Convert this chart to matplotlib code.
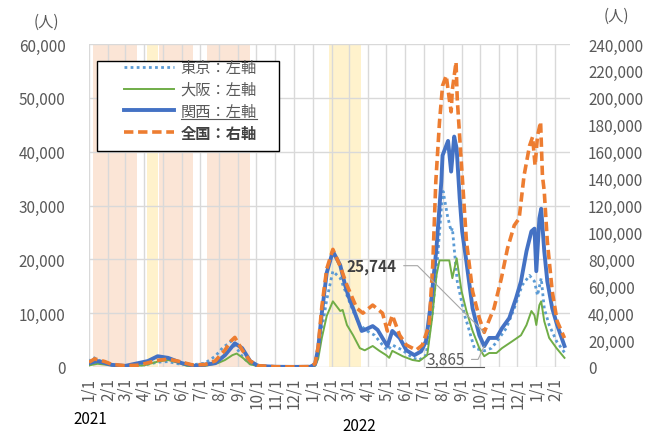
import matplotlib
matplotlib.use('Agg')
import matplotlib.pyplot as plt
import matplotlib.dates as mdates
from matplotlib.ticker import FuncFormatter, MultipleLocator
from matplotlib.lines import Line2D
from matplotlib.patches import Rectangle
from matplotlib.transforms import IdentityTransform
import pandas as pd

plt.rcParams['font.family'] = ['Noto Sans CJK JP', 'DejaVu Sans']

# 東京 (左軸)
tokyo_dates = ['2021-01-01', '2021-01-08', '2021-01-15', '2021-01-27', '2021-02-07', '2021-02-28',
               '2021-03-21', '2021-04-07', '2021-04-23', '2021-05-10', '2021-05-26', '2021-06-18',
               '2021-07-09', '2021-07-26', '2021-08-08', '2021-08-16', '2021-08-21', '2021-08-30',
               '2021-09-09', '2021-09-21', '2021-10-04', '2021-11-01', '2021-12-01', '2021-12-28',
               '2022-01-05', '2022-01-10', '2022-01-16', '2022-01-24', '2022-02-03', '2022-02-15',
               '2022-02-26', '2022-03-08', '2022-03-19', '2022-03-31', '2022-04-12', '2022-04-25',
               '2022-05-03', '2022-05-11', '2022-05-28', '2022-06-13', '2022-06-24', '2022-07-05',
               '2022-07-15', '2022-07-23', '2022-07-30', '2022-08-02', '2022-08-05', '2022-08-09',
               '2022-08-15', '2022-08-17', '2022-08-20', '2022-08-25', '2022-09-01', '2022-09-06',
               '2022-09-11', '2022-09-17', '2022-09-22', '2022-10-08', '2022-10-20', '2022-10-29',
               '2022-11-13', '2022-11-26', '2022-12-09', '2022-12-21', '2022-12-29', '2023-01-03',
               '2023-01-09', '2023-01-14', '2023-01-22', '2023-02-03', '2023-02-16']
tokyo = [1000, 1800, 1300, 900, 400, 250,
         300, 500, 900, 1000, 600, 400,
         700, 2000, 3700, 4300, 4800, 3500,
         1800, 600, 200, 30, 20, 40,
         400, 2500, 7000, 12500, 17800, 16500,
         13300, 10400, 7800, 6700, 5900, 4100,
         3100, 4100, 3100, 1700, 1300, 2200,
         9600, 18900, 29400, 32600, 30700, 28100,
         25200, 25800, 22000, 15900, 12200, 9600,
         7800, 5400, 3500, 3000, 3500, 4800,
         7200, 10900, 15200, 17000, 15900, 13300,
         16500, 10900, 7800, 4800, 2700]

# 大阪 (左軸)
osaka_dates = ['2021-01-01', '2021-01-15', '2021-02-07', '2021-03-01', '2021-04-01', '2021-04-23',
               '2021-05-10', '2021-05-26', '2021-06-10', '2021-07-09', '2021-07-30', '2021-08-11',
               '2021-08-23', '2021-08-30', '2021-09-09', '2021-09-21', '2021-10-04', '2021-11-01',
               '2021-12-01', '2021-12-28', '2022-01-05', '2022-01-10', '2022-01-16', '2022-01-24',
               '2022-02-03', '2022-02-15', '2022-02-19', '2022-02-26', '2022-03-08', '2022-03-19',
               '2022-03-27', '2022-04-09', '2022-04-20', '2022-05-01', '2022-05-06', '2022-05-11',
               '2022-05-28', '2022-06-13', '2022-06-24', '2022-07-07', '2022-07-15', '2022-07-22',
               '2022-07-27', '2022-08-12', '2022-08-17', '2022-08-24', '2022-09-01', '2022-09-09',
               '2022-09-19', '2022-09-30', '2022-10-08', '2022-10-16', '2022-10-28', '2022-11-06',
               '2022-11-23', '2022-12-07', '2022-12-16', '2022-12-24', '2022-12-29', '2023-01-01',
               '2023-01-06', '2023-01-09', '2023-01-14', '2023-01-22', '2023-02-03', '2023-02-16']
osaka = [300, 600, 300, 100, 300, 1000,
         1300, 800, 200, 200, 700, 1300,
         2200, 2500, 1700, 500, 150, 20,
         10, 20, 200, 1500, 5400, 9500,
         12200, 10400, 10600, 7800, 5900, 3500,
         3100, 3900, 3000, 2200, 1700, 3000,
         2000, 1300, 1100, 2200, 9100, 17000,
         19800, 19800, 16500, 20200, 14100, 10400,
         6700, 3500, 2000, 2600, 2600, 3500,
         4800, 5900, 7800, 10400, 9600, 7800,
         11500, 12200, 8500, 5400, 3500, 1700]

# 関西 (左軸)
kansai_dates = ['2021-01-01', '2021-01-15', '2021-02-07', '2021-03-01', '2021-04-07', '2021-04-23',
                '2021-05-10', '2021-06-02', '2021-06-23', '2021-07-26', '2021-08-11', '2021-08-27',
                '2021-09-08', '2021-09-21', '2021-10-04', '2021-11-01', '2021-12-01', '2021-12-28',
                '2022-01-05', '2022-01-10', '2022-01-16', '2022-01-24', '2022-02-03', '2022-02-15',
                '2022-02-23', '2022-02-28', '2022-03-08', '2022-03-22', '2022-03-27', '2022-04-09',
                '2022-04-17', '2022-04-28', '2022-05-03', '2022-05-11', '2022-05-23', '2022-06-03',
                '2022-06-16', '2022-06-27', '2022-07-05', '2022-07-14', '2022-07-22', '2022-07-30',
                '2022-08-01', '2022-08-07', '2022-08-10', '2022-08-15', '2022-08-20', '2022-08-24',
                '2022-08-29', '2022-09-02', '2022-09-09', '2022-09-19', '2022-09-30', '2022-10-08',
                '2022-10-16', '2022-10-28', '2022-11-06', '2022-11-18', '2022-11-29', '2022-12-07',
                '2022-12-16', '2022-12-24', '2022-12-29', '2023-01-01', '2023-01-06', '2023-01-09',
                '2023-01-14', '2023-01-19', '2023-01-27', '2023-02-04', '2023-02-16']
kansai = [700, 1100, 400, 200, 1100, 2000,
          1700, 700, 200, 700, 2200, 4400,
          3500, 1100, 200, 40, 20, 40,
          500, 3500, 10000, 17500, 21500, 18900,
          15200, 13300, 10900, 6700, 6900, 7600,
          6900, 4800, 3900, 6700, 5400, 3100,
          2200, 2900, 4800, 12800, 22000, 34400,
          39300, 41100, 42000, 36300, 42800, 40600,
          31300, 25200, 19500, 10900, 5900, 3865,
          5400, 5400, 7200, 9100, 12800, 15900,
          21500, 25200, 25700, 17800, 27600, 29400,
          21500, 15900, 10900, 7800, 3900]

# 全国 (右軸)
zenkoku_dates = ['2021-01-01', '2021-01-10', '2021-01-15', '2021-01-27', '2021-02-07', '2021-02-28',
                 '2021-03-21', '2021-04-02', '2021-04-23', '2021-05-10', '2021-05-26', '2021-06-18',
                 '2021-07-09', '2021-07-26', '2021-08-11', '2021-08-20', '2021-08-27', '2021-09-08',
                 '2021-09-21', '2021-10-04', '2021-11-01', '2021-12-01', '2021-12-28', '2022-01-05',
                 '2022-01-10', '2022-01-16', '2022-01-24', '2022-02-03', '2022-02-15', '2022-02-26',
                 '2022-03-14', '2022-03-24', '2022-04-09', '2022-04-25', '2022-05-03', '2022-05-11',
                 '2022-05-23', '2022-06-03', '2022-06-19', '2022-06-29', '2022-07-10', '2022-07-16',
                 '2022-07-21', '2022-07-27', '2022-08-01', '2022-08-07', '2022-08-12', '2022-08-15',
                 '2022-08-17', '2022-08-23', '2022-08-25', '2022-09-01', '2022-09-09', '2022-09-19',
                 '2022-09-30', '2022-10-08', '2022-10-16', '2022-10-24', '2022-11-05', '2022-11-15',
                 '2022-11-26', '2022-12-04', '2022-12-12', '2022-12-21', '2022-12-26', '2022-12-30',
                 '2023-01-03', '2023-01-08', '2023-01-11', '2023-01-14', '2023-01-19', '2023-01-27',
                 '2023-02-04', '2023-02-16']
zenkoku = [3500, 6000, 5500, 4000, 2000, 1000,
           1300, 2500, 5000, 5800, 4400, 1600,
           1800, 4500, 12600, 19000, 22000, 12600,
           4400, 1000, 200, 120, 300, 2500,
           15000, 45000, 73000, 87400, 74800, 60700,
           43700, 40000, 46000, 40000, 26700, 38500,
           23700, 16300, 12600, 16300, 31000, 75800,
           137800, 182000, 209000, 216500, 199000, 189600,
           206000, 226600, 199000, 149600, 93300, 56300,
           36300, 25744, 34800, 43700, 65900, 88100,
           105200, 110400, 142200, 164400, 171000, 149600,
           171800, 182200, 142200, 130400, 93300, 56300,
           34100, 21500]

legend_labels = ['東京：左軸', '大阪：左軸', '関西：左軸', '全国：右軸']

emergency = [('2021-01-08', '2021-03-21'), ('2021-04-25', '2021-06-20'), ('2021-07-12', '2021-09-20')]
priority = [('2021-04-05', '2021-04-24'), ('2022-01-27', '2022-03-21')]

gray = '#595959'

fig = plt.figure(figsize=(6.53, 4.35), dpi=100)
ax = fig.add_axes([89 / 653, 1 - 368 / 435, 481 / 653, 323 / 435])
ax2 = ax.twinx()

for s, e in emergency:
    ax.axvspan(pd.Timestamp(s), pd.Timestamp(e), color='#FBE5D6', lw=0, zorder=0)
for s, e in priority:
    ax.axvspan(pd.Timestamp(s), pd.Timestamp(e), color='#FFF2CC', lw=0, zorder=0)

l1, = ax.plot(pd.to_datetime(tokyo_dates), tokyo, color='#5B9BD5', lw=2.0, linestyle=(0, (1, 1.2)))
l2, = ax.plot(pd.to_datetime(osaka_dates), osaka, color='#70AD47', lw=1.4)
l3, = ax.plot(pd.to_datetime(kansai_dates), kansai, color='#4472C4', lw=2.8)
l4, = ax2.plot(pd.to_datetime(zenkoku_dates), zenkoku, color='#ED7D31', lw=2.6, linestyle=(0, (2.6, 1.3)))

ax.set_xlim(pd.Timestamp('2021-01-01'), pd.Timestamp('2023-02-25'))
ax.set_ylim(0, 60000)
ax2.set_ylim(0, 240000)
ax.yaxis.set_major_locator(MultipleLocator(10000))
ax2.yaxis.set_major_locator(MultipleLocator(20000))
fmt = FuncFormatter(lambda v, p: f'{int(v):,}')
ax.yaxis.set_major_formatter(fmt)
ax2.yaxis.set_major_formatter(fmt)
ax.xaxis.set_major_locator(mdates.MonthLocator())
ax.xaxis.set_major_formatter(FuncFormatter(lambda v, p: f'{mdates.num2date(v).month}/1'))

ax.set_axisbelow(True)
ax.grid(True, color='#D9D9D9', lw=1.0)
for a in (ax, ax2):
    for sp in a.spines.values():
        sp.set_visible(False)
ax.tick_params(axis='y', length=0, pad=17, labelsize=11, labelcolor=gray)
ax2.tick_params(axis='y', length=0, pad=13, labelsize=11, labelcolor=gray)
ax.tick_params(axis='x', length=0, pad=7, labelsize=11, labelcolor=gray, labelrotation=90)

fig.text(46 / 653, 1 - 22 / 435, '(人)', fontsize=11, color=gray, ha='center', va='center')
fig.text(616 / 653, 1 - 16 / 435, '(人)', fontsize=11, color=gray, ha='center', va='center')
fig.text(90 / 653, 1 - 420 / 435, '2021', fontsize=11, color='black', ha='center', va='center')
fig.text(359 / 653, 1 - 427 / 435, '2022', fontsize=11, color='black', ha='center', va='center')

# legend with a hand-drawn frame (Excel style padding)
ax2.add_patch(Rectangle(((97 - 89) / 481, (368 - 152) / 323), 182 / 481, 90 / 323,
                        transform=ax2.transAxes, facecolor='white', edgecolor='black', lw=1.0, zorder=4))
leg = ax2.legend([l1, l2, l3, l4], legend_labels, loc='upper left',
                 bbox_to_anchor=((124 - 89) / 481, (368 - 60) / 323), frameon=False,
                 fontsize=11, handlelength=3.3, handletextpad=0.4, labelspacing=0.32,
                 borderpad=0, borderaxespad=0)
leg.set_zorder(5)
for i, t in enumerate(leg.get_texts()):
    t.set_color(gray)
leg.get_texts()[3].set_fontweight('bold')
leg.get_texts()[3].set_color('#404040')

a1 = ax2.annotate('25,744', xy=(pd.Timestamp('2022-10-08'), 25744), xytext=(-81, 48),
                  textcoords='offset points', ha='center', va='center', fontsize=11,
                  fontweight='bold', color='#404040', zorder=6,
                  arrowprops=dict(arrowstyle='-', color='#A6A6A6', lw=0.8, relpos=(1, 0.5),
                                  connectionstyle='angle,angleA=0,angleB=135,rad=0',
                                  shrinkA=3, shrinkB=0))
a2 = ax2.annotate('3,865', xy=(pd.Timestamp('2022-10-08'), 3865 * 4), xytext=(-28, -9.5),
                  textcoords='offset points', ha='center', va='center', fontsize=11,
                  color=gray, zorder=6,
                  arrowprops=dict(arrowstyle='-', color='#A6A6A6', lw=0.8, relpos=(1, 0.5),
                                  connectionstyle='angle,angleA=0,angleB=-115,rad=0',
                                  shrinkA=3, shrinkB=0))

# underlines (as in the source chart)
fig.canvas.draw()
r = fig.canvas.get_renderer()
for t, c in ((leg.get_texts()[2], gray), (a2, gray)):
    bb = t.get_window_extent(r)
    fig.add_artist(Line2D([bb.x0, bb.x1], [bb.y0 + 1, bb.y0 + 1], transform=IdentityTransform(),
                          color=c, lw=0.8))

fig.savefig('out.png', dpi=100)
